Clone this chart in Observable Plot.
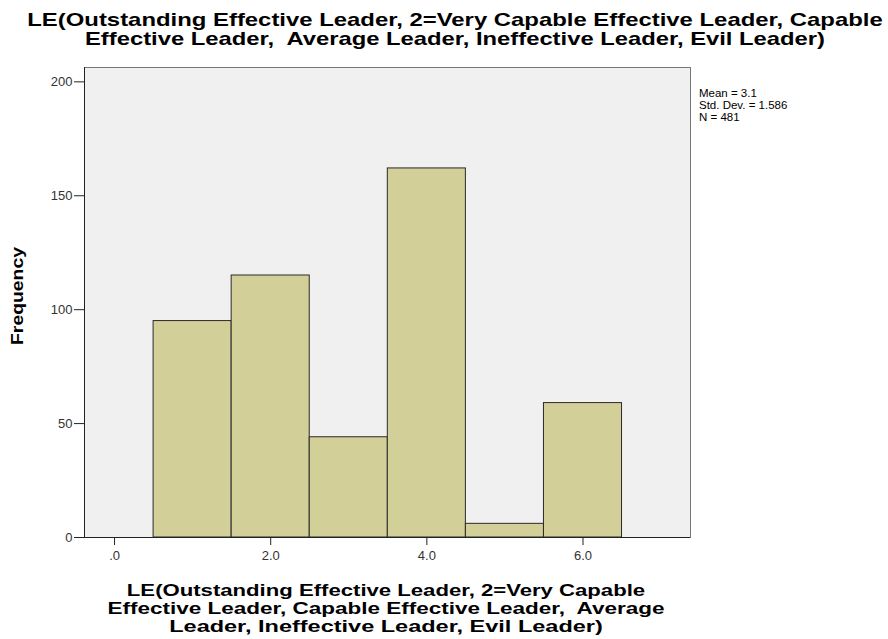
<!DOCTYPE html>
<html>
<head>
<meta charset="utf-8">
<script src="https://cdn.jsdelivr.net/npm/d3@7"></script>
<script src="https://cdn.jsdelivr.net/npm/@observablehq/plot@0.6"></script>
<style>
  body { margin: 0; background: #fff; font-family: "Liberation Sans", Arial, sans-serif; }
  #wrap { position: relative; width: 888px; height: 639px; overflow: hidden; }
  #wrap svg { position: absolute; left: 0; top: 0; }
  .ln { position: absolute; font-weight: bold; color: #000; white-space: pre; transform-origin: 50% 50%; }
  #stats { position: absolute; left: 699px; top: 87px; font-size: 11.5px; line-height: 12px; color: #000; }
</style>
</head>
<body>
<div id="wrap">
  <div id="stats"></div>
</div>
<script>
const categories = [1, 2, 3, 4, 5, 6];
const counts = [95, 115, 44, 162, 6, 59];
const xTicks = [0, 2, 4, 6];
const yTicks = [0, 50, 100, 150, 200];
const statLines = ["Mean = 3.1", "Std. Dev. = 1.586", "N = 481"];
const titleLines = [
  "LE(Outstanding Effective Leader, 2=Very Capable Effective Leader, Capable",
  "Effective Leader,  Average Leader, Ineffective Leader, Evil Leader)"
];
const xTitleLines = [
  "LE(Outstanding Effective Leader, 2=Very Capable",
  "Effective Leader, Capable Effective Leader,  Average",
  "Leader, Ineffective Leader, Evil Leader)"
];
const yTitle = "Frequency";

const data = categories.map((c, i) => ({x1: c - 0.5, x2: c + 0.5, y: counts[i]}));
const xDomain = [-0.385, 7.377];
const yDomain = [0, 206.3];
const fmtX = d => d === 0 ? ".0" : d.toFixed(1);

const chart = Plot.plot({
  width: 888,
  height: 639,
  marginLeft: 84,
  marginRight: 198,
  marginTop: 67,
  marginBottom: 102,
  style: {fontFamily: "Liberation Sans, Arial, sans-serif", fontSize: "13px", color: "#333", background: "transparent"},
  x: {domain: xDomain, ticks: xTicks, tickFormat: fmtX, label: null},
  y: {domain: yDomain, ticks: yTicks, label: null},
  marks: [
    Plot.frame({fill: "#f0f0f0", stroke: "#777"}),
    Plot.rectY(data, {x1: "x1", x2: "x2", y: "y", fill: "#d3cf98", stroke: "#2a2a2a", strokeWidth: 1}),
    Plot.ruleX([xDomain[0]], {stroke: "#222"}),
    Plot.ruleY([0], {stroke: "#222"}),
    Plot.axisX({ticks: xTicks, tickFormat: fmtX, tickSize: 8, tickPadding: 5, stroke: "#222", label: null}),
    Plot.axisY({ticks: yTicks, tickSize: 10, tickPadding: 2, stroke: "#222", label: null})
  ]
});
const wrap = document.getElementById("wrap");
wrap.prepend(chart);
document.getElementById("stats").innerHTML = statLines.join("<br>");

function addLine(text, cx, cy, size, targetW, rotate) {
  const s = document.createElement("span");
  s.className = "ln";
  s.textContent = text;
  s.style.fontSize = size + "px";
  s.style.lineHeight = size + "px";
  s.style.left = cx + "px";
  s.style.top = cy + "px";
  wrap.appendChild(s);
  const k = targetW / s.offsetWidth;
  s.style.transform = `translate(-50%, -50%)${rotate ? " rotate(-90deg)" : ""} scaleX(${k})`;
}
addLine(titleLines[0], 455, 19, 19, 856);
addLine(titleLines[1], 455, 38, 19, 740);
addLine(xTitleLines[0], 386, 590, 17, 518);
addLine(xTitleLines[1], 386, 608, 17, 557);
addLine(xTitleLines[2], 386, 626, 17, 434);
addLine(yTitle, 18, 296, 16, 98, true);
</script>
</body>
</html>
